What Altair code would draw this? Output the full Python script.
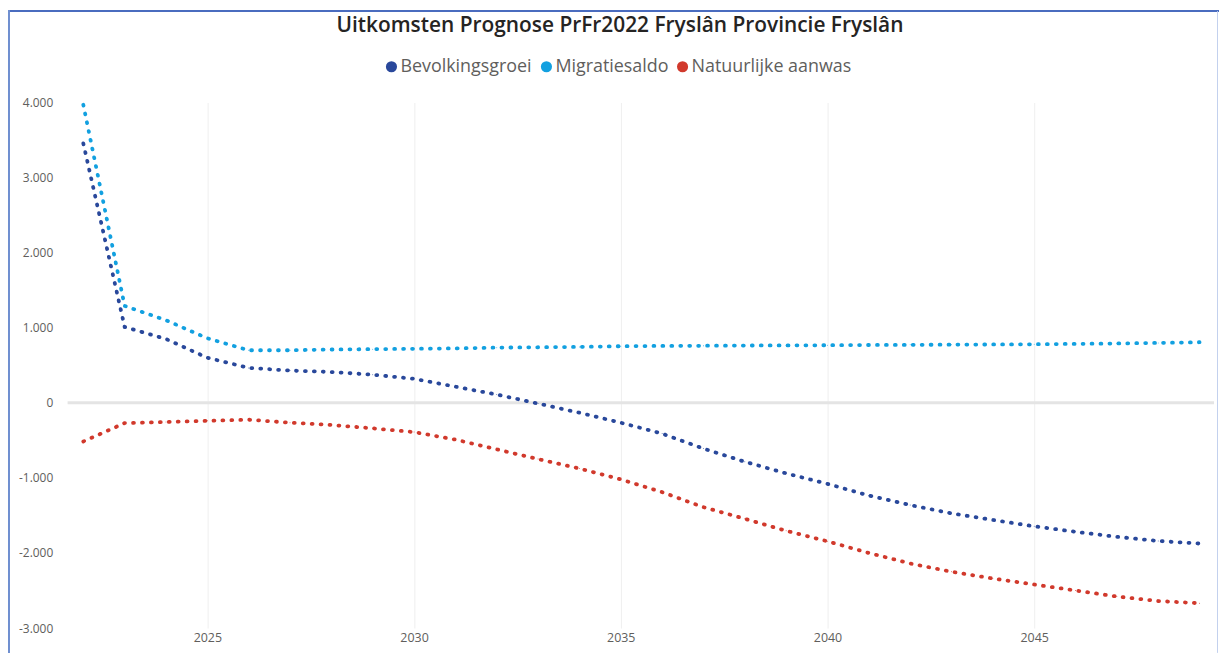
import altair as alt
import pandas as pd

years = [2022, 2023, 2024, 2025, 2026, 2027, 2028, 2029, 2030, 2031, 2032, 2033, 2034, 2035,
         2036, 2037, 2038, 2039, 2040, 2041, 2042, 2043, 2044, 2045, 2046, 2047, 2048, 2049]

bevolkingsgroei = [3455, 1010, 850, 600, 465, 430, 410, 375, 320, 215, 110, -10, -132, -265,
                   -410, -610, -785, -940, -1080, -1235, -1362, -1472, -1560, -1645, -1718, -1785, -1840, -1875]

migratiesaldo = [3970, 1290, 1100, 860, 700, 700, 710, 715, 720, 725, 735, 740, 745, 754,
                 758, 760, 763, 765, 767, 770, 772, 775, 777, 780, 785, 790, 798, 807]

natuurlijke_aanwas = [-515, -270, -255, -240, -225, -265, -295, -340, -390, -490, -620, -750, -875, -1020,
                      -1190, -1390, -1545, -1705, -1845, -2000, -2140, -2250, -2340, -2420, -2500, -2580, -2640, -2670]

series_names = ["Bevolkingsgroei", "Migratiesaldo", "Natuurlijke aanwas"]
series_colors = ["#29489b", "#12a0e0", "#d1392c"]

x_ticks = [2025, 2030, 2035, 2040, 2045]
y_ticks = [-3000, -2000, -1000, 0, 1000, 2000, 3000, 4000]

title_text = "Uitkomsten Prognose PrFr2022 Fryslân Provincie Fryslân"

rows = []
for name, vals in zip(series_names, [bevolkingsgroei, migratiesaldo, natuurlijke_aanwas]):
    for yr, v in zip(years, vals):
        rows.append({"Jaar": yr, "Waarde": v, "Reeks": name})
df = pd.DataFrame(rows)

FONT = "Open Sans"
W, H = 1154, 529

x_enc = alt.X(
    "Jaar:Q",
    scale=alt.Scale(domain=[2021.62, 2049.35], nice=False, zero=False),
    axis=alt.Axis(
        values=x_ticks, format="d", title=None, grid=True, gridColor="#efefef", gridWidth=1,
        ticks=False, domain=False, labelFont=FONT, labelFontSize=12.5, labelColor="#605e5c",
        labelPadding=4,
    ),
)
y_enc = alt.Y(
    "Waarde:Q",
    scale=alt.Scale(domain=[-3000, 4000], nice=False),
    axis=alt.Axis(
        values=y_ticks, title=None, grid=False, ticks=False, domain=False,
        labelFont=FONT, labelFontSize=12, labelColor="#605e5c", labelPadding=15,
        labelExpr="datum.value == 0 ? '0' : (datum.value < 0 ? '-' : '') + replace(format(abs(datum.value), ','), ',', '.')",
    ),
)
color_scale = alt.Scale(domain=series_names, range=series_colors)

zero_df = pd.DataFrame({"nul": [0]})
zero_line = alt.Chart(zero_df).mark_rule(color="#e4e4e4", strokeWidth=3).encode(
    y=alt.Y("nul:Q", scale=alt.Scale(domain=[-3000, 4000], nice=False)),
    x=alt.value(0), x2=alt.value(W),
)

line_layers = []
for name, col in zip(series_names, series_colors):
    line_layers.append(
        alt.Chart(df).transform_filter(alt.datum.Reeks == name).mark_line(
            color=col, strokeWidth=3.8, strokeCap="round", strokeDash=[0.9, 8.1], interpolate="linear"
        ).encode(x=x_enc, y=y_enc)
    )

legend_pts = alt.Chart(df).mark_point(filled=True, size=1, opacity=1).encode(
    x=x_enc,
    y=y_enc,
    fill=alt.Fill(
        "Reeks:N",
        scale=color_scale,
        legend=alt.Legend(
            title=None, orient="none", direction="horizontal", legendX=317, legendY=-45,
            symbolType="circle", symbolSize=125, symbolStrokeWidth=0, symbolOpacity=1,
            labelFont=FONT, labelFontSize=18, labelColor="#605e5c", labelOffset=0,
            labelLimit=400, columnPadding=5,
        ),
    ),
)

# decorative card border
border_top = alt.Chart(zero_df).mark_rule(color="#4a6cbf", strokeWidth=2).encode(
    x=alt.value(-60), x2=alt.value(W + 6), y=alt.value(-92))
border_left = alt.Chart(zero_df).mark_rule(color="#6f8fd0", strokeWidth=2).encode(
    x=alt.value(-59), y=alt.value(-93), y2=alt.value(H + 25))
border_right = alt.Chart(zero_df).mark_rule(color="#c3d1ee", strokeWidth=1).encode(
    x=alt.value(W + 3.5), y=alt.value(-92), y2=alt.value(H + 25))

chart = alt.layer(zero_line, *line_layers, legend_pts, border_top, border_left, border_right).properties(
    width=W,
    height=H,
    autosize=alt.AutoSizeParams(type="none"),
    padding={"left": 60, "top": 93, "right": 5, "bottom": 25},
    title=alt.TitleParams(
        text=title_text, font=FONT, fontSize=21, fontWeight=600, color="#252423",
        anchor="middle", frame="group", dx=-21, offset=-27,
    ),
).configure(background="white").configure_view(stroke=None)

chart.save("out.html", embed_options={"renderer": "svg", "actions": False})
